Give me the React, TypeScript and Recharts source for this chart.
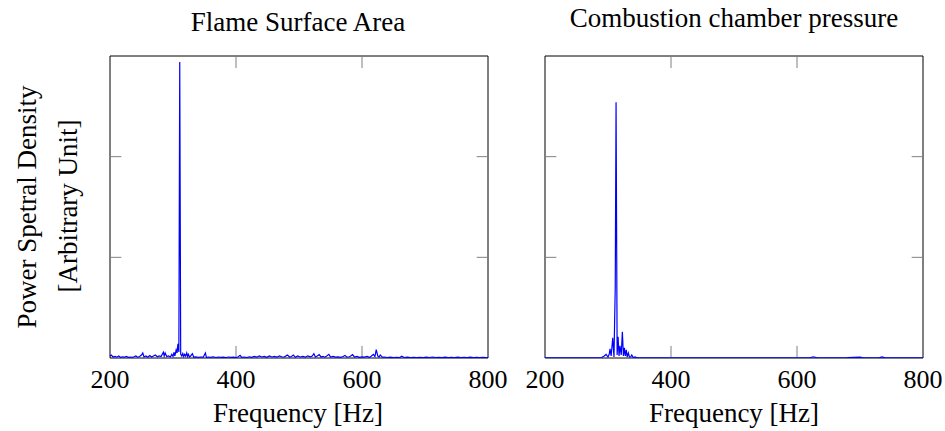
import { LineChart, Line, XAxis, YAxis, ReferenceArea, ReferenceLine } from 'recharts';

// frequency [Hz] / PSD (arbitrary unit, axis 0..3)
const leftFreq = [
  200, 202, 205, 208, 211, 214, 217, 220, 223, 226, 229, 232, 235, 238, 241, 244, 247, 250, 252, 254,
  257, 260, 263, 266, 269, 272, 275, 278, 281, 284.7, 286, 287.5, 290, 293, 296, 298, 300, 301.5, 303, 305,
  306.5, 307.8, 309.3, 310.7, 312.2, 314, 315.5, 317, 318.5, 320, 321.8, 323, 324.5, 326, 328, 330.8, 333, 336, 340, 344,
  348, 351.4, 353, 356, 360, 364, 368, 372, 376, 380, 384, 388, 392, 396, 400, 403, 406.5, 409, 413, 417,
  421, 425, 429, 433, 437, 441, 445, 449, 453, 457, 461, 465, 469, 473, 477, 481.7, 485, 488, 491, 494,
  498, 502, 506, 510, 514, 518, 521, 523.6, 526, 529, 532, 535, 538, 541, 544, 547.4, 550, 554, 558, 562,
  566, 570, 573, 576, 580, 582, 585, 588, 592, 596, 600, 604, 608, 612, 615, 618, 620.5, 622.6, 625, 627,
  629, 632, 636, 640, 645, 650, 655, 660, 663, 667, 672, 677, 682, 687, 692, 697, 702, 707, 712, 717,
  722, 727, 732, 737, 742, 747, 752, 757, 762, 767, 772, 777, 782, 787, 792, 797, 800,
];
const leftPsd = [
  0.02, 0.03, 0.01, 0.015, 0.008, 0.02, 0.006, 0.012, 0.008, 0.015, 0.006, 0.01, 0.007, 0.012, 0.02, 0.008, 0.015, 0.03, 0.05, 0.01,
  0.02, 0.008, 0.025, 0.01, 0.02, 0.03, 0.012, 0.02, 0.015, 0.057, 0.02, 0.05, 0.015, 0.02, 0.01, 0.037, 0.015, 0.057, 0.02, 0.08,
  0.05, 0.14, 0.06, 2.94, 0.04, 0.02, 0.045, 0.015, 0.036, 0.02, 0.05, 0.015, 0.036, 0.01, 0.02, 0.043, 0.008, 0.012, 0.006, 0.01,
  0.008, 0.05, 0.005, 0.01, 0.006, 0.012, 0.005, 0.01, 0.006, 0.008, 0.005, 0.01, 0.006, 0.008, 0.005, 0.01, 0.026, 0.006, 0.01, 0.005,
  0.012, 0.006, 0.015, 0.008, 0.02, 0.01, 0.015, 0.006, 0.02, 0.01, 0.015, 0.008, 0.02, 0.01, 0.012, 0.03, 0.01, 0.015, 0.03, 0.008,
  0.02, 0.01, 0.015, 0.008, 0.02, 0.012, 0.02, 0.043, 0.01, 0.02, 0.033, 0.01, 0.015, 0.008, 0.02, 0.036, 0.01, 0.015, 0.008, 0.012,
  0.006, 0.015, 0.026, 0.008, 0.012, 0.02, 0.033, 0.01, 0.015, 0.006, 0.012, 0.008, 0.015, 0.006, 0.02, 0.036, 0.015, 0.083, 0.02, 0.01,
  0.03, 0.008, 0.01, 0.005, 0.008, 0.004, 0.006, 0.005, 0.017, 0.005, 0.008, 0.004, 0.006, 0.004, 0.007, 0.004, 0.008, 0.005, 0.01, 0.004,
  0.007, 0.004, 0.009, 0.004, 0.006, 0.004, 0.008, 0.004, 0.006, 0.005, 0.008, 0.004, 0.006, 0.004, 0.007, 0.004, 0.005,
];

const rightFreq = [
  200, 280, 290, 294, 297, 300, 302, 303.2, 305, 307.5, 309.5, 311.5, 312.8, 314.5, 316, 317.5, 319, 321, 322.8, 324.5,
  326, 327.5, 329, 330.5, 332.3, 334, 336, 337.7, 340, 343, 346, 360, 450, 600, 620, 626, 632, 680, 700, 705,
  730, 735, 740, 800,
];
const rightPsd = [
  0.002, 0.002, 0.005, 0.02, 0.035, 0.01, 0.04, 0.09, 0.02, 0.2, 0.01, 0.7, 2.54, 0.03, 0.21, 0.02, 0.12, 0.03, 0.26, 0.02,
  0.1, 0.02, 0.08, 0.01, 0.05, 0.01, 0.01, 0.03, 0.005, 0.01, 0.002, 0.002, 0.002, 0.002, 0.002, 0.012, 0.002, 0.003, 0.008, 0.002,
  0.002, 0.01, 0.002, 0.002,
];

const xTicks = [200, 400, 600, 800];
const yTicks = [1, 2];

const FONT = '"Liberation Serif", "Times New Roman", serif';

function Panel({ freq, psd, width }: { freq: number[]; psd: number[]; width: number }) {
  const data = freq.map((f, i) => ({ f, p: psd[i] }));
  return (
    <LineChart width={width} height={431} data={data} margin={{ top: 56, right: width - 488, bottom: 33, left: 110 }}>
      <XAxis
        dataKey="f"
        type="number"
        domain={[200, 800]}
        ticks={xTicks}
        height={40}
        axisLine={false}
        tickLine={false}
        tickSize={6}
        tickMargin={6}
        interval={0}
        tick={{ fontSize: 26, fill: '#000', fontFamily: FONT }}
      />
      <YAxis hide type="number" domain={[0, 3]} allowDataOverflow />
      <ReferenceArea x1={200} x2={800} y1={0} y2={3} fill="none" stroke="#000" strokeWidth={1} />
      {xTicks.slice(1, -1).map((t) => (
        <ReferenceLine key={'b' + t} segment={[{ x: t, y: 0 }, { x: t, y: 0.12 }]} stroke="#808080" />
      ))}
      {xTicks.slice(1, -1).map((t) => (
        <ReferenceLine key={'t' + t} segment={[{ x: t, y: 3 }, { x: t, y: 2.88 }]} stroke="#808080" />
      ))}
      {yTicks.map((t) => (
        <ReferenceLine key={'l' + t} segment={[{ x: 200, y: t }, { x: 218, y: t }]} stroke="#808080" />
      ))}
      {yTicks.map((t) => (
        <ReferenceLine key={'r' + t} segment={[{ x: 782, y: t }, { x: 800, y: t }]} stroke="#808080" />
      ))}
      <Line type="linear" dataKey="p" stroke="#0000ff" strokeWidth={1.2} dot={false} isAnimationActive={false} />
    </LineChart>
  );
}

export default function App() {
  return (
    <div style={{ position: 'absolute', left: 0, top: 0, width: 945, height: 431, background: '#fff' }}>
      <div style={{ position: 'absolute', left: 0, top: 0 }}>
        <Panel freq={leftFreq} psd={leftPsd} width={520} />
      </div>
      <div style={{ position: 'absolute', left: 435, top: 0 }}>
        <Panel freq={rightFreq} psd={rightPsd} width={510} />
      </div>
      <svg width={945} height={431} style={{ position: 'absolute', left: 0, top: 0, pointerEvents: 'none' }}>
        <g fontFamily={FONT} fontSize={27} fill="#000" textAnchor="middle">
          <text x={298} y={31}>Flame Surface Area</text>
          <text x={734} y={27}>Combustion chamber pressure</text>
          <text x={298} y={422}>Frequency [Hz]</text>
          <text x={734} y={422}>Frequency [Hz]</text>
          <text transform="translate(36,207) rotate(-90)">Power Spetral Density</text>
          <text transform="translate(77,206) rotate(-90)">[Arbitrary Unit]</text>
        </g>
      </svg>
    </div>
  );
}
